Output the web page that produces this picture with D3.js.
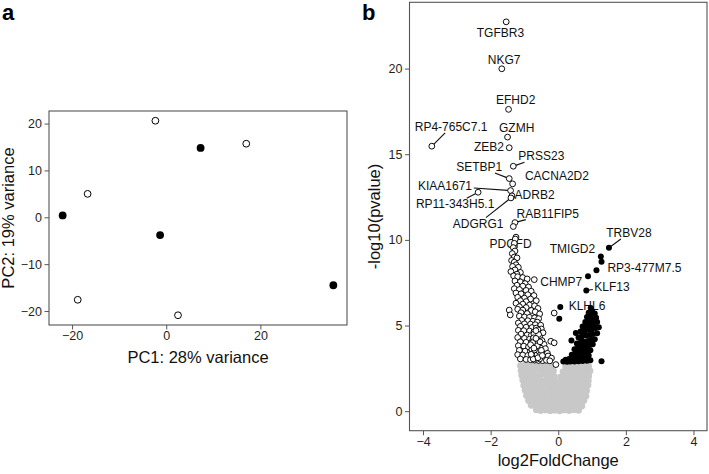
<!DOCTYPE html>
<html><head><meta charset="utf-8">
<script src="https://cdn.jsdelivr.net/npm/d3@7/dist/d3.min.js"></script>
<style>
body{margin:0;background:#fff}
svg{display:block;font-family:"Liberation Sans",Arial,sans-serif}
</style>
</head><body>
<svg id="chart" width="709" height="474"></svg>
<script>
// ---------- Panel a: PCA ----------
const pcaOpen = [[-2.3,20.6],[17.0,15.7],[-16.7,5.0],[-18.8,-17.6],[2.5,-20.9]];
const pcaFilled = [[7.3,14.8],[-22.0,0.4],[-1.3,-3.8],[35.5,-14.5]];
const pcaXTicks = [-20,0,20];
const pcaYTicks = [-20,-10,0,10,20];
const pcaXTitle = "PC1: 28% variance";
const pcaYTitle = "PC2: 19% variance";

// ---------- Panel b: volcano ----------
const volXTicks = [-4,-2,0,2,4];
const volYTicks = [0,5,10,15,20];
const volXTitle = "log2FoldChange";
const volYTitle = "-log10(pvalue)";

// not significant (grey)
const nsPoints = [
[-1.12,2.66],[-0.98,2.7],[-0.84,2.64],[-0.7,2.69],[-0.56,2.65],[-0.42,2.7],[-0.29,2.66],[-0.17,2.62],[0.22,2.6],[0.36,2.68],[0.5,2.64],[0.64,2.7],[0.78,2.66],[0.9,2.62],
[-1.1,2.38],[-0.96,2.42],[-0.82,2.36],[-0.68,2.4],[-0.54,2.44],[-0.4,2.37],[-0.26,2.41],[-0.14,2.34],[0.14,2.3],[0.28,2.4],[0.42,2.36],[0.56,2.42],[0.7,2.38],[0.84,2.4],[0.94,2.35],
[-1.08,2.1],[-0.94,2.06],[-0.8,2.12],[-0.66,2.08],[-0.52,2.1],[-0.38,2.14],[-0.24,2.07],[-0.11,2.02],[0.08,2.0],[0.2,2.1],[0.34,2.06],[0.48,2.12],[0.62,2.08],[0.76,2.12],[0.9,2.06],
[-1.05,1.82],[-0.9,1.78],[-0.76,1.84],[-0.62,1.8],[-0.48,1.76],[-0.34,1.83],[-0.2,1.79],[-0.06,1.72],[0.06,1.74],[0.2,1.8],[0.34,1.77],[0.48,1.83],[0.62,1.79],[0.76,1.82],[0.89,1.78],
[-1.02,1.5],[-0.88,1.54],[-0.74,1.48],[-0.6,1.52],[-0.46,1.49],[-0.32,1.54],[-0.18,1.5],[-0.04,1.46],[0.1,1.51],[0.24,1.48],[0.38,1.53],[0.52,1.49],[0.66,1.52],[0.8,1.48],[0.88,1.53],
[-0.98,1.22],[-0.84,1.18],[-0.7,1.24],[-0.56,1.2],[-0.42,1.17],[-0.28,1.23],[-0.14,1.19],[0.0,1.22],[0.14,1.18],[0.28,1.24],[0.42,1.2],[0.56,1.17],[0.7,1.22],[0.84,1.19],
[-0.94,0.92],[-0.8,0.88],[-0.66,0.94],[-0.52,0.9],[-0.38,0.87],[-0.24,0.93],[-0.1,0.89],[0.04,0.92],[0.18,0.88],[0.32,0.94],[0.46,0.9],[0.6,0.87],[0.72,0.92],[0.82,0.88],
[-0.88,0.62],[-0.74,0.58],[-0.6,0.64],[-0.46,0.6],[-0.32,0.57],[-0.18,0.63],[-0.04,0.59],[0.1,0.62],[0.24,0.58],[0.38,0.64],[0.52,0.6],[0.65,0.57],[0.76,0.62],
[-0.8,0.34],[-0.66,0.3],[-0.52,0.36],[-0.38,0.32],[-0.24,0.29],[-0.1,0.35],[0.04,0.31],[0.18,0.34],[0.32,0.3],[0.46,0.36],[0.59,0.32],[0.7,0.3],
[-0.65,0.08],[-0.52,0.04],[-0.38,0.07],[-0.24,0.03],[-0.1,0.06],[0.04,0.02],[0.18,0.07],[0.32,0.04],[0.46,0.08],[0.6,0.05]
];

// down-regulated (open circles)
const downPoints = [
[-1.54,22.73],[-1.67,19.99],[-1.47,17.62],[-1.5,16.0],[-1.45,15.38],[-3.74,15.47],[-1.33,14.3],[-1.45,13.58],[-1.35,13.27],[-1.41,12.88],[-1.37,12.57],[-1.4,12.45],[-2.37,12.78],[-1.28,11.01],[-1.33,10.78],[-1.25,10.16],
[-1.27,10.05],[-1.3,9.8],[-1.33,9.55],[-1.28,9.35],[-1.36,9.2],[-1.3,9.0],[-1.22,8.95],
[-1.38,8.8],[-1.3,8.7],[-1.25,8.55],[-1.35,8.45],[-1.18,8.4],[-1.28,8.25],[-1.4,8.15],[-1.12,8.1],[-1.22,8.0],
[-1.32,7.9],[-1.2,7.85],[-1.05,7.8],[-0.92,7.72],[-0.71,7.68],[-1.28,7.6],[-1.12,7.55],[-0.98,7.45],[-1.22,7.35],[-1.05,7.3],[-0.88,7.25],[-1.3,7.15],[-1.15,7.1],[-0.95,7.05],[-0.8,7.0],
[-1.25,6.9],[-1.1,6.85],[-0.9,6.8],[-0.72,6.75],[-1.2,6.65],[-1.0,6.6],[-0.82,6.55],[-1.12,6.45],[-0.95,6.4],[-0.65,6.45],[-1.25,6.3],[-1.05,6.25],[-0.85,6.2],[-0.7,6.15],[-1.15,6.1],[-0.95,6.05],[-0.6,6.0],
[-1.45,5.9],[-1.42,5.62],[-0.12,5.73],
[-1.2,5.95],[-1.05,5.9],[-0.8,5.88],[-0.68,5.8],[-1.1,5.75],[-0.92,5.7],[-0.55,5.68],[-1.15,5.55],[-1.0,5.5],[-0.85,5.48],[-0.7,5.45],[-0.58,5.4],[-1.08,5.3],[-0.9,5.28],[-0.75,5.25],[-0.62,5.2],[-1.18,5.15],[-1.0,5.1],[-0.82,5.08],[-0.68,5.05],[-0.52,5.02],
[-1.12,4.95],[-0.95,4.9],[-0.78,4.88],[-0.65,4.85],[-0.5,4.8],[-1.18,4.72],[-1.02,4.7],[-0.85,4.68],[-0.72,4.62],[-0.58,4.6],[-0.45,4.58],[-1.1,4.5],[-0.92,4.45],[-0.8,4.42],[-0.68,4.4],[-0.55,4.35],[-1.2,4.3],[-1.0,4.25],[-0.85,4.2],[-0.75,4.18],[-0.62,4.15],[-0.48,4.12],[-0.22,4.08],[-0.12,3.99],[-1.12,4.05],[-0.95,4.02],
[-0.8,3.98],[-0.7,3.95],[-0.58,3.92],[-0.42,3.9],[-1.18,3.82],[-1.02,3.8],[-0.88,3.75],[-0.75,3.72],[-0.65,3.7],[-0.52,3.68],[-0.38,3.65],[-1.15,3.55],[-0.98,3.5],[-0.82,3.48],[-0.72,3.45],[-0.6,3.42],[-0.48,3.4],[-0.32,3.38],[-1.2,3.3],[-1.05,3.28],[-0.9,3.25],[-0.78,3.22],[-0.66,3.2],[-0.55,3.18],[-0.42,3.15],[-0.3,3.22],[-0.2,3.1],[-1.12,3.05],[-0.95,3.02],[-0.82,3.0],[-0.7,2.98],[-0.58,2.96],[-0.46,2.95],[-0.35,2.97],[-0.25,2.94],[-0.07,2.72],
[-0.75,3.85],[-0.62,3.6],[-0.7,3.35],[-0.65,4.05],[-0.72,4.5],[-0.6,4.75],[-0.78,3.6],[-0.55,3.05],[-0.68,3.1],
[-0.74,3.05],[-0.63,3.28],[-0.57,3.5],[-0.69,3.78],[-0.6,3.98],[-0.73,4.28],[-0.58,4.48],[-0.66,4.7],[-0.52,3.32],[-0.8,3.32],
[-0.7,3.58],[-0.5,3.55],[-0.62,3.82],[-0.76,4.0],[-0.54,4.05],[-0.66,4.25],[-0.82,3.88],[-0.6,3.12],[-0.47,3.25],[-0.72,3.68]
];

// up-regulated (filled)
const upPoints = [
[1.5,9.54],[1.26,9.03],[1.28,8.72],[1.13,8.22],[0.88,7.87],[0.83,7.05],[0.06,6.08],[0.03,5.4],
[0.96,6.03],[1.0,5.85],[0.9,5.75],[1.08,5.7],[0.95,5.55],[0.85,5.5],[1.12,5.45],[1.02,5.35],[0.9,5.3],[0.8,5.2],[1.15,5.2],[1.05,5.1],[0.95,5.05],[0.85,5.0],[0.72,4.95],[1.2,4.9],[1.1,4.85],[1.0,4.8],[0.9,4.75],[0.78,4.7],[0.66,4.65],[0.52,4.57],[1.15,4.55],[1.02,4.5],[0.92,4.45],[0.82,4.42],[0.7,4.38],[0.6,4.3],[0.39,4.12],[1.08,4.2],[0.98,4.15],[0.88,4.1],[0.76,4.05],[0.65,4.0],[0.55,3.95],[1.02,3.9],[0.92,3.85],[0.8,3.8],[0.7,3.75],[0.58,3.7],[0.48,3.62],[0.95,3.55],[0.85,3.5],[0.74,3.45],[0.62,3.4],[0.5,3.35],[0.4,3.3],[0.9,3.25],[0.78,3.2],[0.66,3.15],[0.55,3.1],[0.44,3.08],[0.32,3.05],[0.22,3.0],[0.85,2.95],[0.72,2.93],[0.6,2.92],[0.48,2.9],[0.36,2.9],[0.26,2.88],[0.15,2.9],[1.28,2.91],[0.95,2.98],
[0.7,4.1],[0.8,3.6],[0.6,3.55],[0.9,4.0],[0.75,4.55],[0.88,4.9]
];

// gene labels: point (x,y), label centre (lx,ly), segment flag
const geneNames = ["TGFBR3","NKG7","EFHD2","GZMH","ZEB2","RP4-765C7.1","PRSS23","SETBP1","CACNA2D2","KIAA1671","ADRB2","RP11-343H5.1","ADGRG1","RAB11FIP5","PDGFD","TRBV28","TMIGD2","RP3-477M7.5","CHMP7","KLF13","KLHL6"];
const genePointX = [-1.54,-1.67,-1.47,-1.5,-1.45,-3.74,-1.33,-1.45,-1.35,-1.41,-1.37,-2.37,-1.4,-1.28,-1.25,1.5,1.26,1.13,0.88,0.83,0.06];
const genePointY = [22.73,19.99,17.62,16.0,15.38,15.47,14.3,13.58,13.27,12.88,12.57,12.78,12.45,11.01,10.16,9.54,9.03,8.22,7.87,7.05,6.08];
const geneLabelX = [-1.71,-1.60,-1.26,-1.23,-2.05,-3.17,-0.50,-2.34,-0.04,-3.35,-0.70,-3.05,-2.37,-0.31,-1.41,2.09,0.42,2.55,0.09,1.59,0.85];
const geneLabelY = [22.12,20.50,18.17,16.55,15.44,16.61,14.90,14.27,13.73,13.16,12.62,12.10,10.97,11.55,9.80,10.42,9.51,8.38,7.56,7.27,6.14];
const geneSegment = [0,0,0,0,0,1,1,1,0,1,0,1,1,1,0,1,0,0,0,1,0];

const svg = d3.select("#chart");
const borderCol = "#555", tickTextCol = "#1f1f1f";

function axisStyle(g){
  g.select(".domain").remove();
  g.selectAll(".tick line").attr("stroke", borderCol);
  g.selectAll(".tick text").attr("fill", tickTextCol).style("font-size","12.5px")
   .style("font-family",'"Liberation Sans",Arial,sans-serif');
}

// ----- Panel a -----
{
  const L=49, R=347, T=111, B=325;
  const x = d3.scaleLinear().domain([-24.9,38.4]).range([L,R]);
  const y = d3.scaleLinear().domain([-22.98,22.68]).range([B,T]);
  svg.append("g").attr("transform",`translate(0,${B})`)
    .call(d3.axisBottom(x).tickValues(pcaXTicks).tickSize(4.5).tickPadding(1.5).tickFormat(d3.format("d")))
    .call(axisStyle);
  svg.append("g").attr("transform",`translate(${L},0)`)
    .call(d3.axisLeft(y).tickValues(pcaYTicks).tickSize(4.5).tickPadding(2.5).tickFormat(d3.format("d")))
    .call(axisStyle);
  svg.append("rect").attr("x",L).attr("y",T).attr("width",R-L).attr("height",B-T)
    .attr("fill","none").attr("stroke",borderCol).attr("stroke-width",1.1);
  svg.append("g").selectAll("circle").data(pcaOpen).join("circle")
    .attr("cx",d=>x(d[0])).attr("cy",d=>y(d[1])).attr("r",3.4)
    .attr("fill","#fff").attr("stroke","#000").attr("stroke-width",1);
  svg.append("g").selectAll("circle").data(pcaFilled).join("circle")
    .attr("cx",d=>x(d[0])).attr("cy",d=>y(d[1])).attr("r",3.9).attr("fill","#000");
  svg.append("text").attr("x",(L+R)/2).attr("y",363).attr("text-anchor","middle")
    .style("font-size","16.5px").attr("fill","#111").text(pcaXTitle);
  svg.append("text").attr("transform",`translate(14,${(T+B)/2}) rotate(-90)`).attr("text-anchor","middle")
    .style("font-size","16.5px").attr("fill","#111").text(pcaYTitle);
  svg.append("text").attr("x",2).attr("y",20).style("font-size","22px").style("font-weight","bold").text("a");
}

// ----- Panel b -----
{
  const L=409.5, R=707, T=2.3, B=430.7;
  const x = d3.scaleLinear().domain([-4.4,4.4]).range([L,R]);
  const y = d3.scaleLinear().domain([-1.14,23.87]).range([B,T]);
  svg.append("g").attr("transform",`translate(0,${B})`)
    .call(d3.axisBottom(x).tickValues(volXTicks).tickSize(4.5).tickPadding(1.5).tickFormat(d3.format("d")))
    .call(axisStyle);
  svg.append("g").attr("transform",`translate(${L},0)`)
    .call(d3.axisLeft(y).tickValues(volYTicks).tickSize(4.5).tickPadding(2.5).tickFormat(d3.format("d")))
    .call(axisStyle);
  svg.append("rect").attr("x",L).attr("y",T).attr("width",R-L).attr("height",B-T)
    .attr("fill","none").attr("stroke",borderCol).attr("stroke-width",1.1);

  // labels + segments first (points are drawn over them, as in the reference)
  const lab = svg.append("g");
  geneNames.forEach((name,i)=>{
    const t = lab.append("text").attr("x",x(geneLabelX[i])).attr("y",y(geneLabelY[i]))
      .attr("dy","0.36em").attr("text-anchor","middle").style("font-size","12px").attr("fill","#111").text(name);
    if(geneSegment[i]){
      const bb = t.node().getBBox();
      const px = x(genePointX[i]), py = y(genePointY[i]);
      const cx = bb.x+bb.width/2, cy = bb.y+bb.height/2;
      const hw = bb.width/2+1.5, hh = bb.height/2-1;
      const dx = px-cx, dy = py-cy;
      const s = Math.min(Math.abs(dx)>0?hw/Math.abs(dx):Infinity, Math.abs(dy)>0?hh/Math.abs(dy):Infinity);
      const ex = cx+dx*s, ey = cy+dy*s;
      const len = Math.hypot(px-ex,py-ey);
      const k = (len-2.6)/len;
      lab.insert("line","text").attr("x1",ex).attr("y1",ey).attr("x2",ex+(px-ex)*k).attr("y2",ey+(py-ey)*k)
        .attr("stroke","#111").attr("stroke-width",1.1);
    }
  });

  svg.append("g").selectAll("circle").data(nsPoints).join("circle")
    .attr("cx",d=>x(d[0])).attr("cy",d=>y(d[1])).attr("r",3.4).attr("fill","#c8c8c8");
  svg.append("g").selectAll("circle").data(downPoints).join("circle")
    .attr("cx",d=>x(d[0])).attr("cy",d=>y(d[1])).attr("r",2.9)
    .attr("fill","#fff").attr("stroke","#000").attr("stroke-width",0.95);
  svg.append("g").selectAll("circle").data(upPoints).join("circle")
    .attr("cx",d=>x(d[0])).attr("cy",d=>y(d[1])).attr("r",3.0).attr("fill","#000");

  svg.append("text").attr("x",(L+R)/2).attr("y",466).attr("text-anchor","middle")
    .style("font-size","16.5px").attr("fill","#111").text(volXTitle);
  svg.append("text").attr("transform",`translate(380,${(T+B)/2}) rotate(-90)`).attr("text-anchor","middle")
    .style("font-size","16.5px").attr("fill","#111").text(volYTitle);
  svg.append("text").attr("x",362).attr("y",20).style("font-size","22px").style("font-weight","bold").text("b");
}
</script>
</body></html>
